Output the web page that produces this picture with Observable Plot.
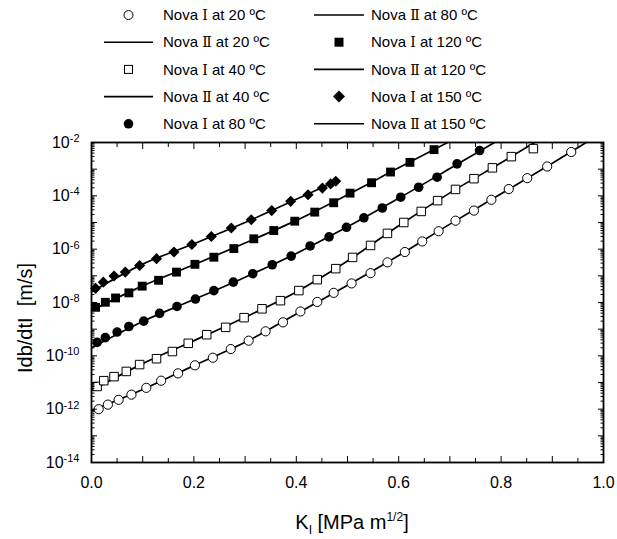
<!DOCTYPE html>
<html><head><meta charset="utf-8">
<script src="https://cdn.jsdelivr.net/npm/d3@7"></script>
<script src="https://cdn.jsdelivr.net/npm/@observablehq/plot@0.6"></script>
<style>
body{margin:0;background:#fff;font-family:"Liberation Sans",Arial,sans-serif;}
#wrap{position:relative;width:617px;height:539px;overflow:hidden;background:#fff;}
#chart{position:absolute;left:0;top:0;}
#legend{position:absolute;left:0;top:0;}
.xt{position:absolute;left:0;width:704px;text-align:center;top:505px;font-size:20px;line-height:24px;}
.yt{position:absolute;left:25px;top:318px;transform:translate(-50%,-50%) rotate(-90deg);font-size:20px;white-space:nowrap;}
</style></head><body>
<div id="wrap"><div id="chart"></div><svg id="legend" width="617" height="138"></svg>
<div class="xt">K<sub style="font-size:12px">I</sub> [MPa m<sup style="font-size:12px">1/2</sup>]</div>
<div class="yt">Idb/dtI&nbsp; [m/s]</div>
</div>
<script>
// ---- Nova I (measured points) ----
const k20 = [0.014,0.032,0.053,0.078,0.107,0.136,0.169,0.202,0.237,0.272,0.307,0.340,0.374,0.408,0.441,0.473,0.508,0.545,0.578,0.612,0.646,0.678,0.711,0.747,0.781,0.815,0.851,0.890,0.937];
const r20 = [1.0e-12,1.48e-12,2.24e-12,3.5e-12,6.3e-12,1.17e-11,2.2e-11,4.4e-11,8.5e-11,1.8e-10,3.7e-10,8.3e-10,1.8e-9,4.6e-9,1.05e-8,2.3e-8,5.2e-8,1.26e-7,3.2e-7,7.8e-7,1.95e-6,4.7e-6,1.17e-5,2.8e-5,7.1e-5,1.8e-4,4.6e-4,1.26e-3,4.4e-3];
const k40 = [0.011,0.024,0.044,0.068,0.094,0.127,0.158,0.189,0.225,0.262,0.298,0.333,0.369,0.405,0.441,0.477,0.510,0.545,0.578,0.610,0.644,0.676,0.711,0.747,0.783,0.820,0.863];
const r40 = [7.1e-12,1.17e-11,1.66e-11,2.6e-11,4.7e-11,7.8e-11,1.45e-10,2.95e-10,6.2e-10,1.17e-9,2.7e-9,5.8e-9,1.17e-8,2.8e-8,7.2e-8,1.86e-7,4.9e-7,1.38e-6,3.9e-6,1.0e-5,2.6e-5,6.6e-5,1.74e-4,4.4e-4,1.12e-3,2.95e-3,5.9e-3];
const k80 = [0.011,0.027,0.050,0.073,0.102,0.133,0.167,0.203,0.239,0.277,0.315,0.353,0.390,0.427,0.464,0.498,0.532,0.568,0.604,0.639,0.675,0.714,0.758];
const r80 = [3.2e-10,4.8e-10,7.8e-10,1.26e-9,2.0e-9,3.9e-9,7.1e-9,1.35e-8,2.8e-8,5.8e-8,1.2e-7,2.6e-7,5.5e-7,1.32e-6,2.9e-6,6.6e-6,1.5e-5,3.5e-5,8.9e-5,2.1e-4,5.0e-4,1.58e-3,5.0e-3];
const k120 = [0.008,0.027,0.047,0.073,0.099,0.131,0.166,0.202,0.239,0.278,0.317,0.356,0.397,0.436,0.473,0.505,0.547,0.584,0.622,0.669];
const r120 = [6.6e-9,1.02e-8,1.48e-8,2.3e-8,4.1e-8,6.8e-8,1.38e-7,2.7e-7,5.0e-7,1.05e-6,2.45e-6,5.0e-6,1.12e-5,2.45e-5,5.5e-5,1.26e-4,3.1e-4,7.8e-4,1.8e-3,5.4e-3];
const k150 = [0.008,0.023,0.044,0.066,0.094,0.127,0.161,0.196,0.234,0.273,0.312,0.352,0.389,0.423,0.451,0.467,0.477];
const r150 = [3.4e-8,5.8e-8,9.8e-8,1.38e-7,2.45e-7,4.4e-7,7.8e-7,1.5e-6,3.0e-6,6.2e-6,1.26e-5,2.8e-5,6.2e-5,1.1e-4,1.95e-4,2.8e-4,3.5e-4];
// ---- Nova II (model curves) ----
const lk20 = [0,0.1,0.2,0.3,0.4,0.5,0.6,0.7,0.8,0.9,1.0];
const lr20 = [8.9e-13,5.5e-12,4.3e-11,3.2e-10,3.7e-9,4.4e-8,5.8e-7,8.7e-6,1.2e-4,1.66e-3,2.5e-2];
const lk40 = [0,0.1,0.2,0.3,0.4,0.5,0.6,0.7,0.8,0.9];
const lr40 = [5.0e-12,5.1e-11,3.7e-10,2.8e-9,2.5e-8,3.6e-7,7.6e-6,1.29e-4,1.74e-3,2.5e-2];
const lk80 = [0,0.1,0.2,0.3,0.4,0.5,0.6,0.7,0.8];
const lr80 = [2.0e-10,1.95e-9,1.29e-8,8.9e-8,6.9e-7,6.9e-6,8.1e-5,1.05e-3,1.4e-2];
const lk120 = [0,0.1,0.2,0.3,0.4,0.5,0.6,0.7];
const lr120 = [5.0e-9,4.2e-8,2.6e-7,1.7e-6,1.2e-5,1.1e-4,1.12e-3,1.1e-2];
const lk150 = [0,0.1,0.2,0.3,0.4,0.48];
const lr150 = [2.5e-8,2.75e-7,1.6e-6,1.0e-5,7.4e-5,3.7e-4];
// ---- ticks ----
const xTicks = [0,0.2,0.4,0.6,0.8,1.0];
const xMajorTicks = [0,0.1,0.2,0.3,0.4,0.5,0.6,0.7,0.8,0.9,1.0];
const xMinorTicks = [0.05,0.15,0.25,0.35,0.45,0.55,0.65,0.75,0.85,0.95];
const yExp = [-14,-12,-10,-8,-6,-4,-2];
const yDecades = [-14,-13,-12,-11,-10,-9,-8,-7,-6,-5,-4,-3,-2];
// ---- legend ----
const legendLeft = [
  {label: "Nova Ⅰ at 20 ºC", type: "circleOpen"},
  {label: "Nova Ⅱ at 20 ºC", type: "line"},
  {label: "Nova Ⅰ at 40 ºC", type: "squareOpen"},
  {label: "Nova Ⅱ at 40 ºC", type: "line"},
  {label: "Nova Ⅰ at 80 ºC", type: "circleFill"}
];
const legendRight = [
  {label: "Nova Ⅱ at 80 ºC", type: "line"},
  {label: "Nova Ⅰ at 120 ºC", type: "squareFill"},
  {label: "Nova Ⅱ at 120 ºC", type: "line"},
  {label: "Nova Ⅰ at 150 ºC", type: "diamond"},
  {label: "Nova Ⅱ at 150 ºC", type: "line"}
];

const pts = (ks, rs, s) => ks.map((k,i)=>({k, r: rs[i], s}));
const P20 = pts(k20,r20), P40 = pts(k40,r40), P80 = pts(k80,r80), P120 = pts(k120,r120), P150 = pts(k150,r150);
const lines = [pts(lk20,lr20,"20"),pts(lk40,lr40,"40"),pts(lk80,lr80,"80"),pts(lk120,lr120,"120"),pts(lk150,lr150,"150")].flat();

const yMajorVals = yDecades.map(e => 10 ** e);
const yMinorVals = [];
for (const e of yDecades.slice(0,-1)) for (let m = 2; m <= 9; m++) yMinorVals.push(m * 10 ** e);

const font = "Liberation Sans, Arial, sans-serif";
const plot = Plot.plot({
  width: 617, height: 539,
  marginLeft: 91, marginRight: 14, marginTop: 142, marginBottom: 77,
  style: {fontFamily: font, fontSize: "16px", background: "transparent", color: "black"},
  x: {domain: [0, 1], label: null},
  y: {type: "log", domain: [1e-14, 1e-2], label: null},
  marks: [
    Plot.line(lines, {x: "k", y: "r", z: "s", stroke: "black", strokeWidth: 1.7, curve: "monotone-x", clip: true}),
    Plot.dot(P20, {x: "k", y: "r", symbol: "circle", r: 4.6, stroke: "black", fill: "white", strokeWidth: 1}),
    Plot.dot(P40, {x: "k", y: "r", symbol: "square", r: 4.8, stroke: "black", fill: "white", strokeWidth: 1}),
    Plot.dot(P80, {x: "k", y: "r", symbol: "circle", r: 4.8, fill: "black", stroke: "none"}),
    Plot.dot(P120, {x: "k", y: "r", symbol: "square", r: 5.0, fill: "black", stroke: "none"}),
    Plot.dot(P150, {x: "k", y: "r", symbol: "diamond2", r: 5.0, fill: "black", stroke: "none"}),
    // ticks (inward)
    Plot.axisX(xMajorTicks, {anchor: "bottom", tickSize: -6, tickFormat: () => "", label: null}),
    Plot.axisX(xMinorTicks, {anchor: "bottom", tickSize: -4, tickFormat: () => "", label: null}),
    Plot.axisX(xMajorTicks, {anchor: "top", tickSize: -6, tickFormat: () => "", label: null}),
    Plot.axisX(xMinorTicks, {anchor: "top", tickSize: -4, tickFormat: () => "", label: null}),
    Plot.axisY(yMajorVals, {anchor: "left", tickSize: -6, tickFormat: () => "", label: null}),
    Plot.axisY(yMinorVals, {anchor: "left", tickSize: -3.5, tickFormat: () => "", label: null}),
    Plot.axisY(yMajorVals, {anchor: "right", tickSize: -6, tickFormat: () => "", label: null}),
    Plot.axisY(yMinorVals, {anchor: "right", tickSize: -3.5, tickFormat: () => "", label: null}),
    // labels
    Plot.axisX(xTicks, {anchor: "bottom", tickSize: 0, tickPadding: 14, fontSize: 16, tickFormat: d3.format(".1f"), label: null}),
    Plot.axisY(yExp.map(e => 10 ** e), {anchor: "left", tickSize: 0, tickPadding: 12, fontSize: 16, tickFormat: d => String(Math.round(Math.log10(d))), label: null}),
    Plot.frame({stroke: "black", strokeWidth: 1.8})
  ]
});
document.getElementById("chart").appendChild(plot);

// superscript exponents on y labels
d3.select(plot).selectAll('g[aria-label="y-axis tick label"] text').each(function () {
  const e = this.textContent;
  if (!e) return;
  const t = d3.select(this);
  t.text(null);
  t.append("tspan").text("10");
  t.append("tspan").attr("dy", "-0.5em").attr("font-size", "11px").text(e);
});

const lg = d3.select("#legend");
const rowY = i => 15 + i * 27.2;
function drawItem(item, i, x0, x1, tx) {
  const y = rowY(i), cx = (x0 + x1) / 2;
  if (item.type === "line") lg.append("line").attr("x1", x0).attr("x2", x1).attr("y1", y).attr("y2", y).attr("stroke", "black").attr("stroke-width", 1.6);
  else if (item.type === "circleOpen") lg.append("circle").attr("cx", cx).attr("cy", y).attr("r", 4.5).attr("fill", "white").attr("stroke", "black");
  else if (item.type === "circleFill") lg.append("circle").attr("cx", cx).attr("cy", y).attr("r", 4.8).attr("fill", "black");
  else if (item.type === "squareOpen") lg.append("rect").attr("x", cx - 4).attr("y", y - 4).attr("width", 8).attr("height", 8).attr("fill", "white").attr("stroke", "black");
  else if (item.type === "squareFill") lg.append("rect").attr("x", cx - 4.5).attr("y", y - 4.5).attr("width", 9).attr("height", 9).attr("fill", "black");
  else if (item.type === "diamond") lg.append("path").attr("d", `M${cx},${y-6}L${cx+6},${y}L${cx},${y+6}L${cx-6},${y}Z`).attr("fill", "black");
  const t = lg.append("text").attr("x", tx).attr("y", y).attr("dy", "0.35em").attr("font-size", 15).attr("font-family", font);
  const m = item.label.match(/^(.*?)([ⅠⅡ])(.*)$/);
  t.append("tspan").text(m[1]);
  t.append("tspan").attr("font-family", "DejaVu Serif, Liberation Serif, serif").attr("font-size", 14).text(m[2]);
  t.append("tspan").text(m[3]);
}
legendLeft.forEach((d, i) => drawItem(d, i, 104, 153, 163));
legendRight.forEach((d, i) => drawItem(d, i, 314, 364, 371));
</script>
</body></html>
